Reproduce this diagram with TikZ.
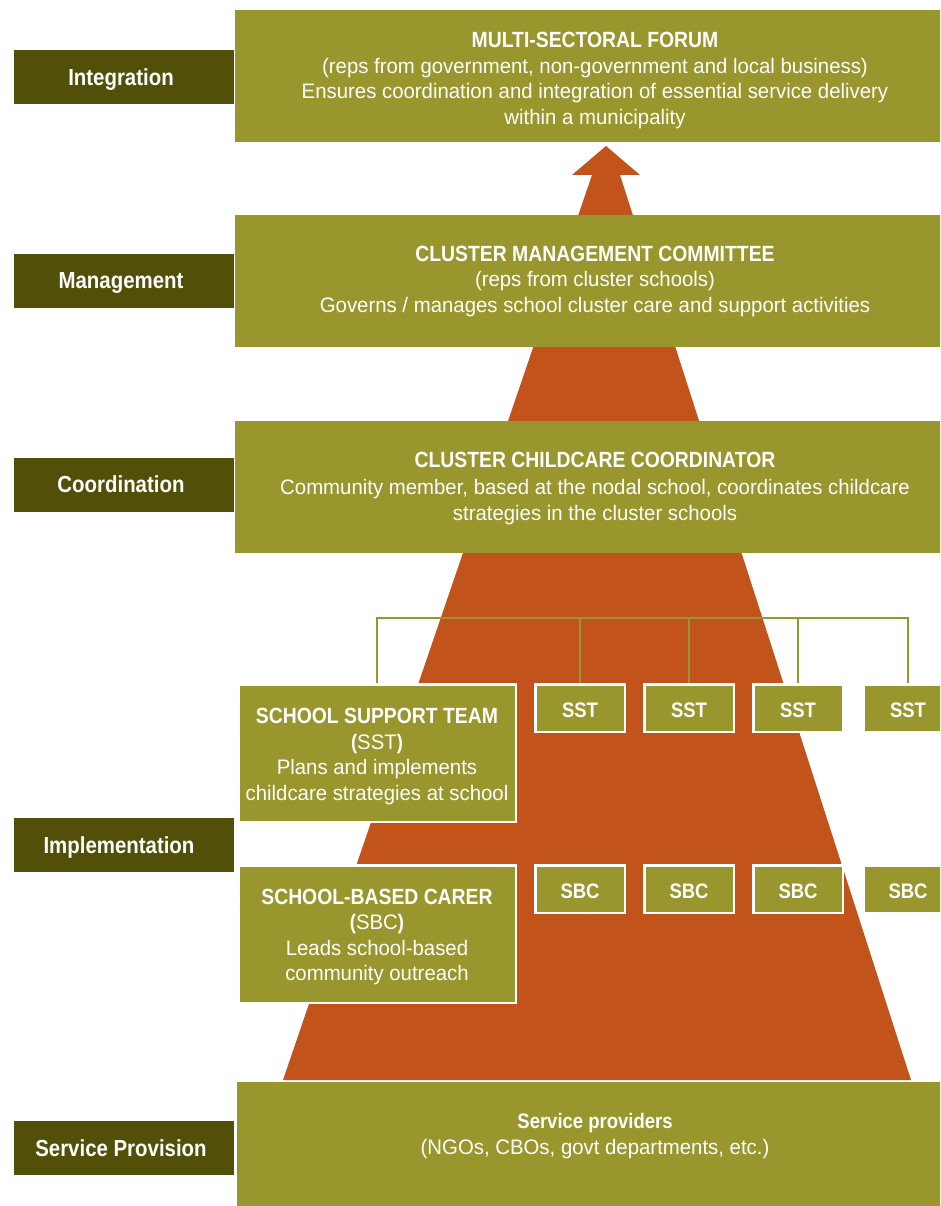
\documentclass[tikz,border=0pt]{standalone}
\usepackage{fontspec}
\setmainfont{Liberation Sans}[FakeStretch=0.97, BoldFeatures={FakeStretch=0.88}]
\definecolor{boxolive}{HTML}{98962D}
\definecolor{labdark}{HTML}{514F08}
\definecolor{pyr}{HTML}{C1531B}
\newcommand\ttlfont{\fontsize{22}{25.5}\selectfont\bfseries}
\begin{document}
\begin{tikzpicture}[x=1pt,y=-1pt,
  box/.style={fill=boxolive, inner sep=0pt},
  wbox/.style={box, draw=white, line width=2.5pt},
  txt/.style={text=white, inner sep=0pt, align=center, font=\fontsize{21}{25.5}\selectfont},
  small/.style={wbox, text=white, minimum width=89.5pt, minimum height=47.5pt, text height=19pt, text depth=0pt, font=\fontsize{21}{24}\selectfont\bfseries},
  lab/.style={fill=labdark, text=white, inner sep=0pt, minimum width=220pt, minimum height=54pt, text depth=0pt, font=\fontsize{23.2}{26}\selectfont\bfseries},
  conn/.style={draw=boxolive, line width=2.5pt}]
\clip (0,0) rectangle (940,1206);
\fill[white] (0,0) rectangle (940,1206);
% pyramid / arrow
\fill[pyr] (606,146) -- (640,175) -- (620,175) -- (911,1080) -- (283,1080) -- (592,175) -- (572,175) -- cycle;
% left labels
\node[lab] (lint) at (124,77) {Integration\hspace*{6pt}};
\node[lab] (lman) at (124,281) {Management\hspace*{6pt}};
\node[lab] (lcoo) at (124,484.5) {Coordination\hspace*{6pt}};
\node[lab] (limp) at (124,845) {Implementation\hspace*{10pt}};
\node[lab] (lsvc) at (124,1148) {Service Provision\hspace*{6pt}};
% main boxes
\node[box, minimum width=720pt, minimum height=132pt] (forum) at (595,76) {};
\node[txt] (forumtxt) at (595,80.5)
  {{\ttlfont MULTI-SECTORAL FORUM}\\(reps from government, non-government and local business)\\Ensures coordination and integration of essential service delivery\\within a municipality};
\node[box, minimum width=720pt, minimum height=132pt] (cmc) at (595,281) {};
\node[txt] (cmctxt) at (595,281)
  {{\ttlfont CLUSTER MANAGEMENT COMMITTEE}\\(reps from cluster schools)\\Governs / manages school cluster care and support activities};
\node[box, minimum width=720pt, minimum height=132pt] (ccc) at (595,487) {};
\node[txt] (ccctxt) at (595,488.5)
  {{\ttlfont CLUSTER CHILDCARE COORDINATOR}\\[1.5pt]Community member, based at the nodal school, coordinates childcare\\strategies in the cluster schools};
% school support teams
\coordinate (bus) at (376,618);
\node[wbox, minimum width=277.5pt, minimum height=137.5pt] (sstbig) at (377,753) {};
\node[txt] (sstbigtxt) at (377,756.5)
  {{\ttlfont SCHOOL SUPPORT TEAM}\\\textbf{(}SST\textbf{)}\\Plans and implements\\childcare strategies at school};
\node[small] (sst1) at (580,708) {SST};
\node[small] (sst2) at (689,708) {SST};
\node[small] (sst3) at (798,708) {SST};
\node[small] (sst4) at (908,708) {SST};
\draw[conn] (sstbig.north) -- (sstbig.north |- bus) -- (sst4.north |- bus) -- (sst4.north);
\draw[conn] (sst1.north |- bus) -- (sst1.north);
\draw[conn] (sst2.north |- bus) -- (sst2.north);
\draw[conn] (sst3.north |- bus) -- (sst3.north);
% school-based carers
\node[wbox, minimum width=277.5pt, minimum height=137.5pt] (sbcbig) at (377,934) {};
\node[txt] (sbcbigtxt) at (377,937)
  {{\ttlfont SCHOOL-BASED CARER}\\\textbf{(}SBC\textbf{)}\\Leads school-based\\community outreach};
\node[small] (sbc1) at (580,889) {SBC};
\node[small] (sbc2) at (689,889) {SBC};
\node[small] (sbc3) at (798,889) {SBC};
\node[small] (sbc4) at (908,889) {SBC};
% service providers
\node[box, minimum width=718pt, minimum height=140pt] (svc) at (596,1152) {};
\node[txt] (svctxt) at (595,1136)
  {\textbf{Service providers}\\(NGOs, CBOs, govt departments, etc.)};
\end{tikzpicture}
\end{document}
